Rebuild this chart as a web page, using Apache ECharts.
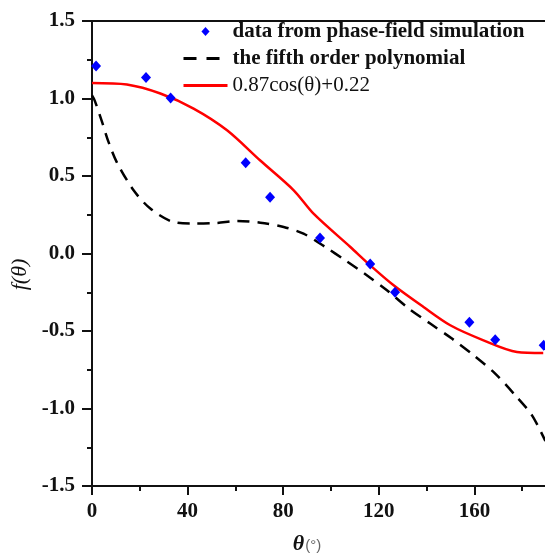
<!DOCTYPE html>
<html>
<head>
<meta charset="utf-8">
<script src="https://cdn.jsdelivr.net/npm/echarts@6/dist/echarts.min.js"></script>
<style>html,body{margin:0;padding:0;background:#fff;}#c{width:545px;height:554px;}</style>
</head>
<body>
<div id="c"></div>
<script>
// ---- data ----
const seriesNames = ['data from phase-field simulation', 'the fifth order polynomial', '0.87cos(\u03b8)+0.22'];
const simTheta = [1.7, 22.6, 32.9, 64.3, 74.5, 95.4, 116.4, 126.8, 157.9, 168.7, 189.0];
const simF     = [1.21, 1.135, 1.003, 0.586, 0.363, 0.100, -0.068, -0.250, -0.444, -0.556, -0.592];
const polyTheta = [0, 1.1, 4.2, 6.9, 10.4, 17.4, 24.4, 34.1, 42.5, 52.3, 60.7, 70.4, 80.2, 88.5, 97.6, 106.0, 114.4, 123.4, 132.5, 141.5, 150.6, 159.7, 168.7, 177.1, 184.1, 189.7];
const polyF     = [1.02, 0.988, 0.849, 0.72, 0.588, 0.408, 0.29, 0.203, 0.193, 0.197, 0.21, 0.199, 0.171, 0.128, 0.042, -0.044, -0.134, -0.237, -0.355, -0.452, -0.549, -0.657, -0.775, -0.915, -1.044, -1.21];
const cosTheta = [0, 14.6, 28.6, 42.5, 56.5, 70.4, 84.4, 92.7, 108.1, 116.4, 126.2, 138.7, 149.9, 163.8, 177.8, 188.8];
const cosF     = [1.10, 1.09, 1.032, 0.935, 0.795, 0.60, 0.408, 0.257, 0.042, -0.076, -0.205, -0.345, -0.463, -0.56, -0.635, -0.642];
const xMin = 0, xMax = 200, xStep = 40;
const yMin = -1.5, yMax = 1.5, yStep = 0.5;

const pairs = (xs, ys) => xs.map((x, i) => [x, ys[i]]);
const serif = "'Liberation Serif', 'Times New Roman', serif";
const axisColor = '#111';

const chart = echarts.init(document.getElementById('c'), null, {renderer: 'canvas'});
chart.setOption({
  animation: false,
  backgroundColor: '#fff',
  grid: {left: 92, top: 21, width: 478, height: 465, containLabel: false, outerBoundsMode: 'none'},
  legend: {
    orient: 'vertical', left: 182, top: 21, padding: 0,
    itemWidth: 44, itemHeight: 9, itemGap: 6, symbolKeepAspect: true,
    textStyle: {fontFamily: serif, fontSize: 21, lineHeight: 21, color: '#111', fontWeight: 'bold'},
    data: [
      {name: seriesNames[0], icon: 'path://M0,-5L4.5,0L0,5L-4.5,0Z', textStyle: {fontWeight: 'bold'}},
      {name: seriesNames[1], itemStyle: {color: 'transparent', borderWidth: 0},
       lineStyle: {type: [13, 10], width: 3}, textStyle: {fontWeight: 'bold'}},
      {name: seriesNames[2], itemStyle: {color: 'transparent', borderWidth: 0},
       lineStyle: {width: 3}, textStyle: {fontWeight: 'normal'}}
    ]
  },
  xAxis: [{
    type: 'value', min: xMin, max: xMax, interval: xStep, position: 'bottom',
    splitLine: {show: false},
    axisLine: {onZero: false, lineStyle: {color: axisColor, width: 2}},
    axisTick: {length: 9, lineStyle: {color: axisColor, width: 2}},
    minorTick: {show: true, splitNumber: 2, length: 5, lineStyle: {color: axisColor, width: 2}},
    axisLabel: {fontFamily: serif, fontSize: 21, fontWeight: 'bold', color: '#111', margin: 15},
    name: '{t|\u03b8}{u|(\u00b0)}', nameLocation: 'middle', nameGap: 47,
    nameTextStyle: {
      padding: [0, 48, 0, 0],
      rich: {
        t: {fontFamily: serif, fontSize: 22, fontWeight: 'bold', fontStyle: 'italic', color: '#111'},
        u: {fontFamily: "'Liberation Sans', Arial, sans-serif", fontSize: 15, color: '#666', padding: [3, 0, 0, 1]}
      }
    }
  }, {
    type: 'value', min: xMin, max: xMax, position: 'top',
    splitLine: {show: false},
    axisLine: {onZero: false, lineStyle: {color: axisColor, width: 2}},
    axisTick: {show: false}, axisLabel: {show: false}
  }],
  yAxis: {
    type: 'value', min: yMin, max: yMax, interval: yStep,
    splitLine: {show: false},
    axisLine: {onZero: false, lineStyle: {color: axisColor, width: 2}},
    axisTick: {length: 10, lineStyle: {color: axisColor, width: 2}},
    minorTick: {show: true, splitNumber: 2, length: 5, lineStyle: {color: axisColor, width: 2}},
    axisLabel: {fontFamily: serif, fontSize: 21, fontWeight: 'bold', color: '#111', margin: 17,
                formatter: v => v.toFixed(1)},
    name: 'f(\u03b8)', nameLocation: 'middle', nameGap: 47, nameRotate: 90,
    nameTextStyle: {fontFamily: serif, fontSize: 22, fontStyle: 'italic', color: '#111', padding: [0, 42, 0, 0]}
  },
  series: [
    {
      name: seriesNames[0], type: 'scatter', xAxisIndex: 0,
      symbol: 'diamond', symbolSize: [10, 11],
      itemStyle: {color: '#0000ff', opacity: 1},
      data: pairs(simTheta, simF), z: 5
    },
    {
      name: seriesNames[1], type: 'line', xAxisIndex: 0, symbol: 'none', smooth: 0.3,
      lineStyle: {color: '#000', width: 2.5, type: [12, 8]},
      itemStyle: {color: '#000'},
      data: pairs(polyTheta, polyF), z: 3
    },
    {
      name: seriesNames[2], type: 'line', xAxisIndex: 0, symbol: 'none', smooth: 0.3,
      lineStyle: {color: '#ff0000', width: 2.5},
      itemStyle: {color: '#ff0000'},
      data: pairs(cosTheta, cosF), z: 4
    }
  ]
});
</script>
</body>
</html>
